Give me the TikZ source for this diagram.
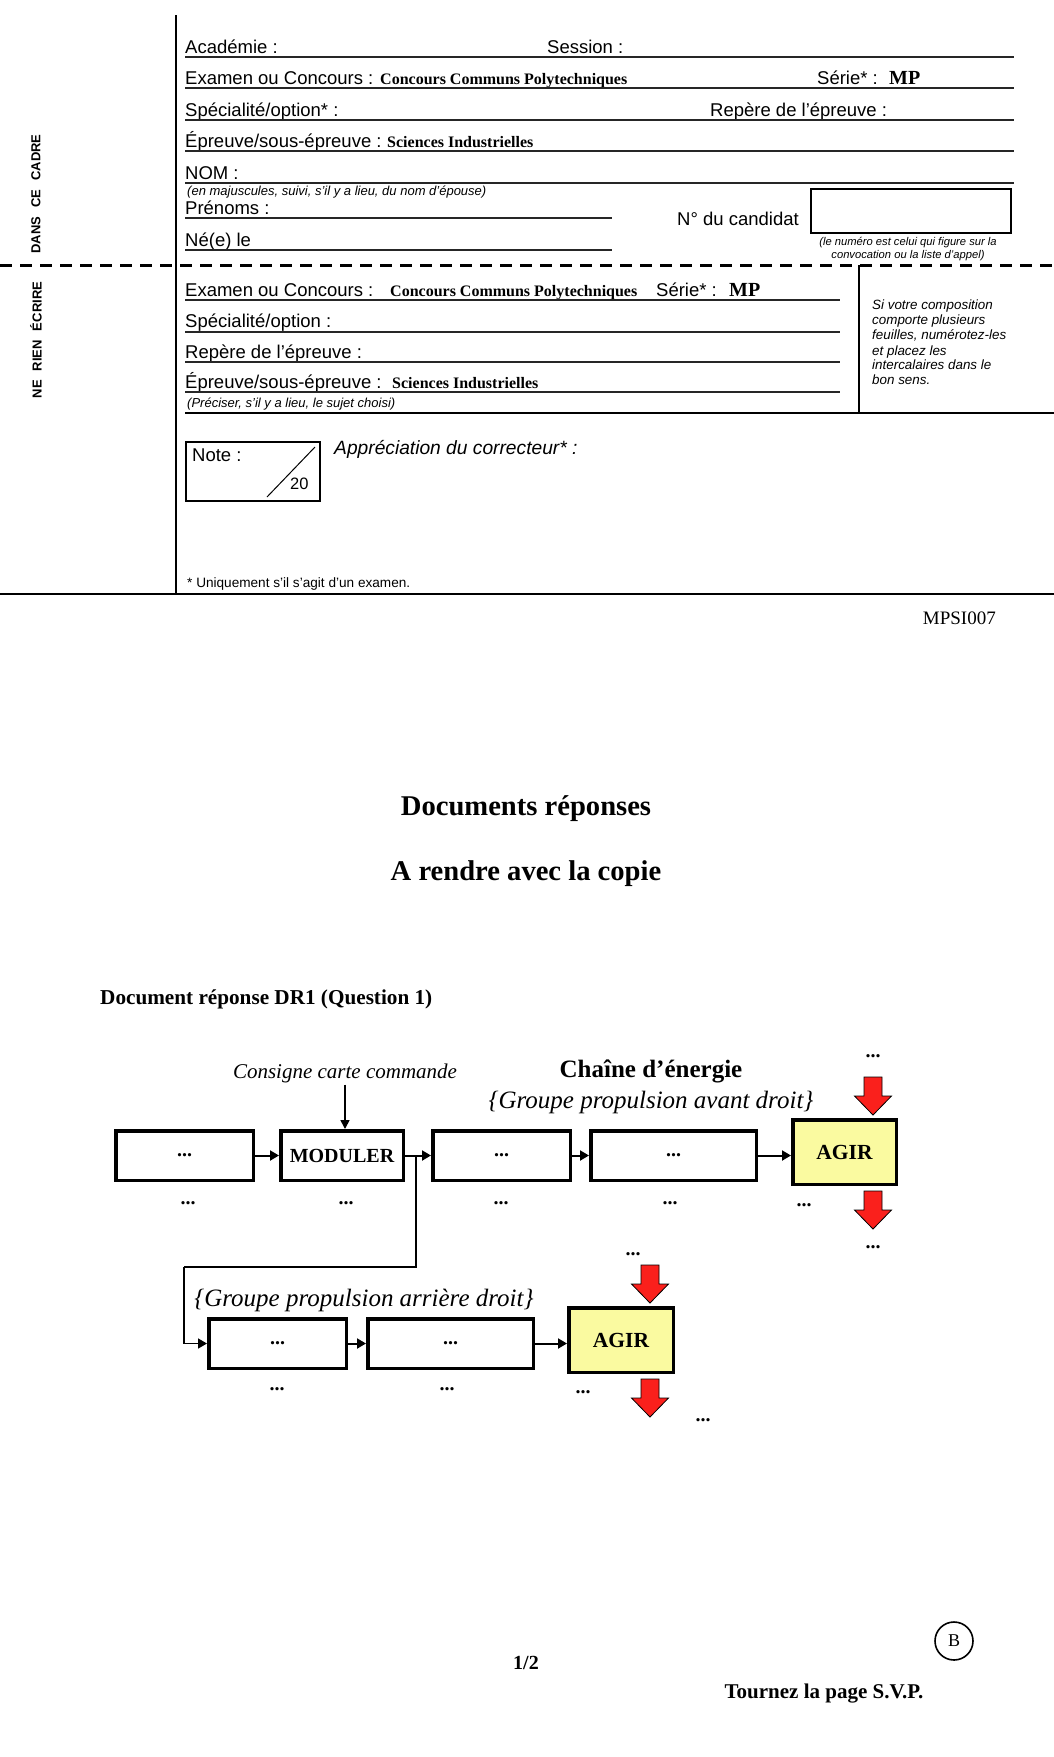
\documentclass[tikz,border=0pt]{standalone}
\usepackage{fontspec}
\setmainfont{Liberation Serif}
\setsansfont{Liberation Sans}
\usetikzlibrary{arrows.meta}
\newcommand{\fsz}[1]{\fontsize{#1pt}{#1pt}\selectfont}
\definecolor{arrred}{RGB}{250,32,28}
\definecolor{agiryel}{RGB}{250,250,160}
\tikzset{
  form/.style={anchor=base west, inner sep=0, font=\sffamily\fsz{18.5}},
  formbold/.style={anchor=base west, inner sep=0, font=\rmfamily\bfseries\fsz{16}},
  formmp/.style={anchor=base west, inner sep=0, font=\rmfamily\bfseries\fsz{20}},
  formsmall/.style={anchor=base west, inner sep=0, font=\sffamily\itshape\fsz{13}},
  formtiny/.style={anchor=base, inner sep=0, font=\sffamily\itshape\fsz{11.2}},
  formright/.style={anchor=base west, inner sep=0, font=\sffamily\itshape\fsz{13.4}},
  sidetxt/.style={rotate=90, inner sep=0, font=\sffamily\bfseries\fsz{13}},
  fline/.style={line width=1.6pt, black!85},
  title/.style={inner sep=0, font=\rmfamily\bfseries\fsz{28.6}},
  fbox/.style={draw, line width=3.5pt, inner sep=0, font=\rmfamily\bfseries\fsz{20}},
  agirbox/.style={fbox, fill=agiryel, font=\rmfamily\bfseries\fsz{21.5}},
  dots/.style={inner sep=0, font=\rmfamily\bfseries\fsz{20}},
  itl/.style={inner sep=0, font=\rmfamily\itshape\fsz{21}},
  itlbig/.style={inner sep=0, font=\rmfamily\itshape\fsz{25}},
  flow/.style={line width=2pt, -{Triangle[length=9pt,width=10pt]}},
  redarr/.pic={\draw[fill=arrred, line width=0.8pt, line join=miter]
     (-9,0) -- (9,0) -- (9,19) -- (18.5,19) -- (0,38) -- (-18.5,19) -- (-9,19) -- cycle;}
}
\begin{document}
\begin{tikzpicture}[x=1pt,y=-1pt]
\useasboundingbox (0,0) rectangle (1054,1757);
\fill[white] (0,0) rectangle (1054,1757);

% ---------- frame ----------
\draw[line width=2pt] (176,15) -- (176,594);
\draw[line width=2.5pt] (0,594) -- (1054,594);
\draw[line width=3pt, dash pattern=on 12pt off 8pt] (0,265) -- (1054,265);
\node[sidetxt] (side1) at (36,194) {DANS\hspace{9pt}CE\hspace{9pt}CADRE};
\node[sidetxt] (side2) at (36,340) {NE\hspace{9pt}RIEN\hspace{9pt}ÉCRIRE};

% ---------- upper form ----------
\node[form] (aca) at (185,53) {Académie :};
\node[form] (ses) at (547,53) {Session :};
\draw[fline] (185,57) -- (1014,57);
\node[form] (exa) at (185,84) {Examen ou Concours :};
\node[formbold] (ccp) at (380,84) {Concours Communs Polytechniques};
\node[form] (ser) at (817,84) {Série* :};
\node[formmp] (mp1) at (889,84) {MP};
\draw[fline] (185,88) -- (1014,88);
\node[form] (spe) at (185,116) {Spécialité/option* :};
\node[form] (rep) at (710,116) {Repère de l’épreuve :};
\draw[fline] (185,120) -- (1014,120);
\node[form] (epr) at (185,147) {Épreuve/sous-épreuve :};
\node[formbold] (sci) at (387,147) {Sciences Industrielles};
\draw[fline] (185,151) -- (1014,151);
\node[form] (nom) at (185,179) {NOM :};
\draw[fline] (185,183) -- (1014,183);
\node[formsmall] (maj) at (187,195) {(en majuscules, suivi, s’il y a lieu, du nom d’épouse)};
\node[form] (pre) at (185,214) {Prénoms :};
\draw[fline] (185,218) -- (612,218);
\node[form] (nee) at (185,246) {Né(e) le};
\draw[fline] (185,250) -- (612,250);
\node[form] (ncand) at (677,225) {N° du candidat};
\draw[line width=1.2pt] (811,189) rectangle (1011,233);
\node[formtiny] (num1) at (908,245) {(le numéro est celui qui figure sur la};
\node[formtiny] (num2) at (908,258) {convocation ou la liste d’appel)};

% ---------- lower form ----------
\node[form] (exa2) at (185,296) {Examen ou Concours :};
\node[formbold] (ccp2) at (390,296) {Concours Communs Polytechniques};
\node[form] (ser2) at (656,296) {Série* :};
\node[formmp] (mp2) at (729,296) {MP};
\draw[fline] (185,300) -- (840,300);
\node[form] (spe2) at (185,327) {Spécialité/option :};
\draw[fline] (185,332) -- (840,332);
\node[form] (rep2) at (185,358) {Repère de l’épreuve :};
\draw[fline] (185,362) -- (840,362);
\node[form] (epr2) at (185,388) {Épreuve/sous-épreuve :};
\node[formbold] (sci2) at (392,388) {Sciences Industrielles};
\draw[fline] (185,392) -- (840,392);
\node[formsmall] (prec) at (187,407) {(Préciser, s’il y a lieu, le sujet choisi)};
\draw[line width=1.8pt] (185,413) -- (1054,413);
\draw[line width=1.4pt] (859,265) -- (859,413);
\node[formright] (r1) at (872,309) {Si votre composition};
\node[formright] (r2) at (872,324) {comporte plusieurs};
\node[formright] (r3) at (872,339) {feuilles, numérotez-les};
\node[formright] (r4) at (872,355) {et placez les};
\node[formright] (r5) at (872,369) {intercalaires dans le};
\node[formright] (r6) at (872,384) {bon sens.};

\draw[line width=1.2pt] (186,442) rectangle (320,501);
\draw[line width=1pt] (315,447) -- (267,497);
\node[form] (note) at (192,461) {Note :};
\node[anchor=base west, inner sep=0, font=\sffamily\fsz{16.5}] (vingt) at (290,489) {20};
\node[anchor=base west, inner sep=0, font=\sffamily\itshape\fsz{19.2}] (appr) at (334,454) {Appréciation du correcteur* :};
\node[anchor=base west, inner sep=0, font=\sffamily\fsz{13.6}] (uniq) at (187,587) {* Uniquement s’il s’agit d’un examen.};

% ---------- page texts ----------
\node[anchor=base east, inner sep=0, font=\rmfamily\fsz{19}] (ref) at (996,624) {MPSI007};
\node[title] (t1) at (526,809) {Documents réponses};
\node[title] (t2) at (526,874) {A rendre avec la copie};
\node[anchor=base west, inner sep=0, font=\rmfamily\bfseries\fsz{21.2}] (dr1) at (100,1004) {Document réponse DR1 (Question 1)};

% ---------- diagram ----------
\node[fbox, minimum width=137.5pt, minimum height=49.5pt] (b1) at (184.5,1155.5) {...};
\node[fbox, minimum width=122.5pt, minimum height=49.5pt] (mod) at (342,1155.5) {MODULER};
\node[fbox, minimum width=137.5pt, minimum height=49.5pt] (b3) at (501.5,1155.5) {...};
\node[fbox, minimum width=165.5pt, minimum height=49.5pt] (b4) at (673.5,1155.5) {...};
\node[agirbox, minimum width=103.5pt, minimum height=64.5pt] (agir1) at (844.5,1152) {AGIR};

\node[itl] (cons) at (345,1073) {Consigne carte commande};
\node[inner sep=0, font=\rmfamily\bfseries\fsz{25}] (chaine) at (651,1071) {Chaîne d’énergie};
\node[itlbig] (gav) at (651,1102) {\{Groupe propulsion avant droit\}};

\draw[flow] (b1.east) -- (mod.west);
\draw[flow] (mod.east) -- (b3.west);
\draw[flow] (b3.east) -- (b4.west);
\draw[flow] (b4.east) -- (agir1.west |- b4.east);
\draw[line width=1.6pt, -{Triangle[length=9pt,width=9pt]}] (cons.south) ++(0,2) coordinate (cs) -- (cs |- mod.north);

\node[dots] (d1) at (188,1203) {...};
\node[dots] (d2) at (346,1203) {...};
\node[dots] (d3) at (501,1203) {...};
\node[dots] (d4) at (670,1203) {...};
\node[dots] (d5) at (804,1205) {...};
\node[dots] (d6) at (873,1056) {...};
\node[dots] (d7) at (873,1247) {...};
\pic at (873,1077) {redarr};
\pic at (873,1191) {redarr};

% branch
\coordinate (br) at (416,1155.5);
\coordinate (cr) at (184,1267);
\draw[line width=1.6pt] (br) |- (cr);
\draw[line width=1.6pt, -{Triangle[length=9pt,width=10pt]}] (cr) |- (207,1343.5);

\node[itlbig] (gar) at (364,1300) {\{Groupe propulsion arrière droit\}};
\node[fbox, minimum width=137.5pt, minimum height=49.5pt] (b5) at (277.5,1343.5) {...};
\node[fbox, minimum width=165.5pt, minimum height=49.5pt] (b6) at (450.5,1343.5) {...};
\node[agirbox, minimum width=104.5pt, minimum height=64.5pt] (agir2) at (621,1340) {AGIR};
\draw[flow] (b5.east) -- (b6.west);
\draw[flow] (b6.east) -- (agir2.west |- b6.east);

\node[dots] (e1) at (277,1389) {...};
\node[dots] (e2) at (447,1389) {...};
\node[dots] (e3) at (583,1392) {...};
\node[dots] (e4) at (633,1254) {...};
\node[dots] (e5) at (703,1420) {...};
\pic at (650,1265) {redarr};
\pic at (650,1379) {redarr};

% ---------- footer ----------
\node[inner sep=0, font=\rmfamily\bfseries\fsz{20}] (pg) at (526,1663) {1/2};
\node[inner sep=0, font=\rmfamily\bfseries\fsz{21}] (tourn) at (824,1694) {Tournez la page S.V.P.};
\node[draw, circle, line width=1.6pt, minimum size=38pt, inner sep=0, font=\rmfamily\fsz{18}] (circB) at (954,1641) {B};
\end{tikzpicture}
\end{document}
